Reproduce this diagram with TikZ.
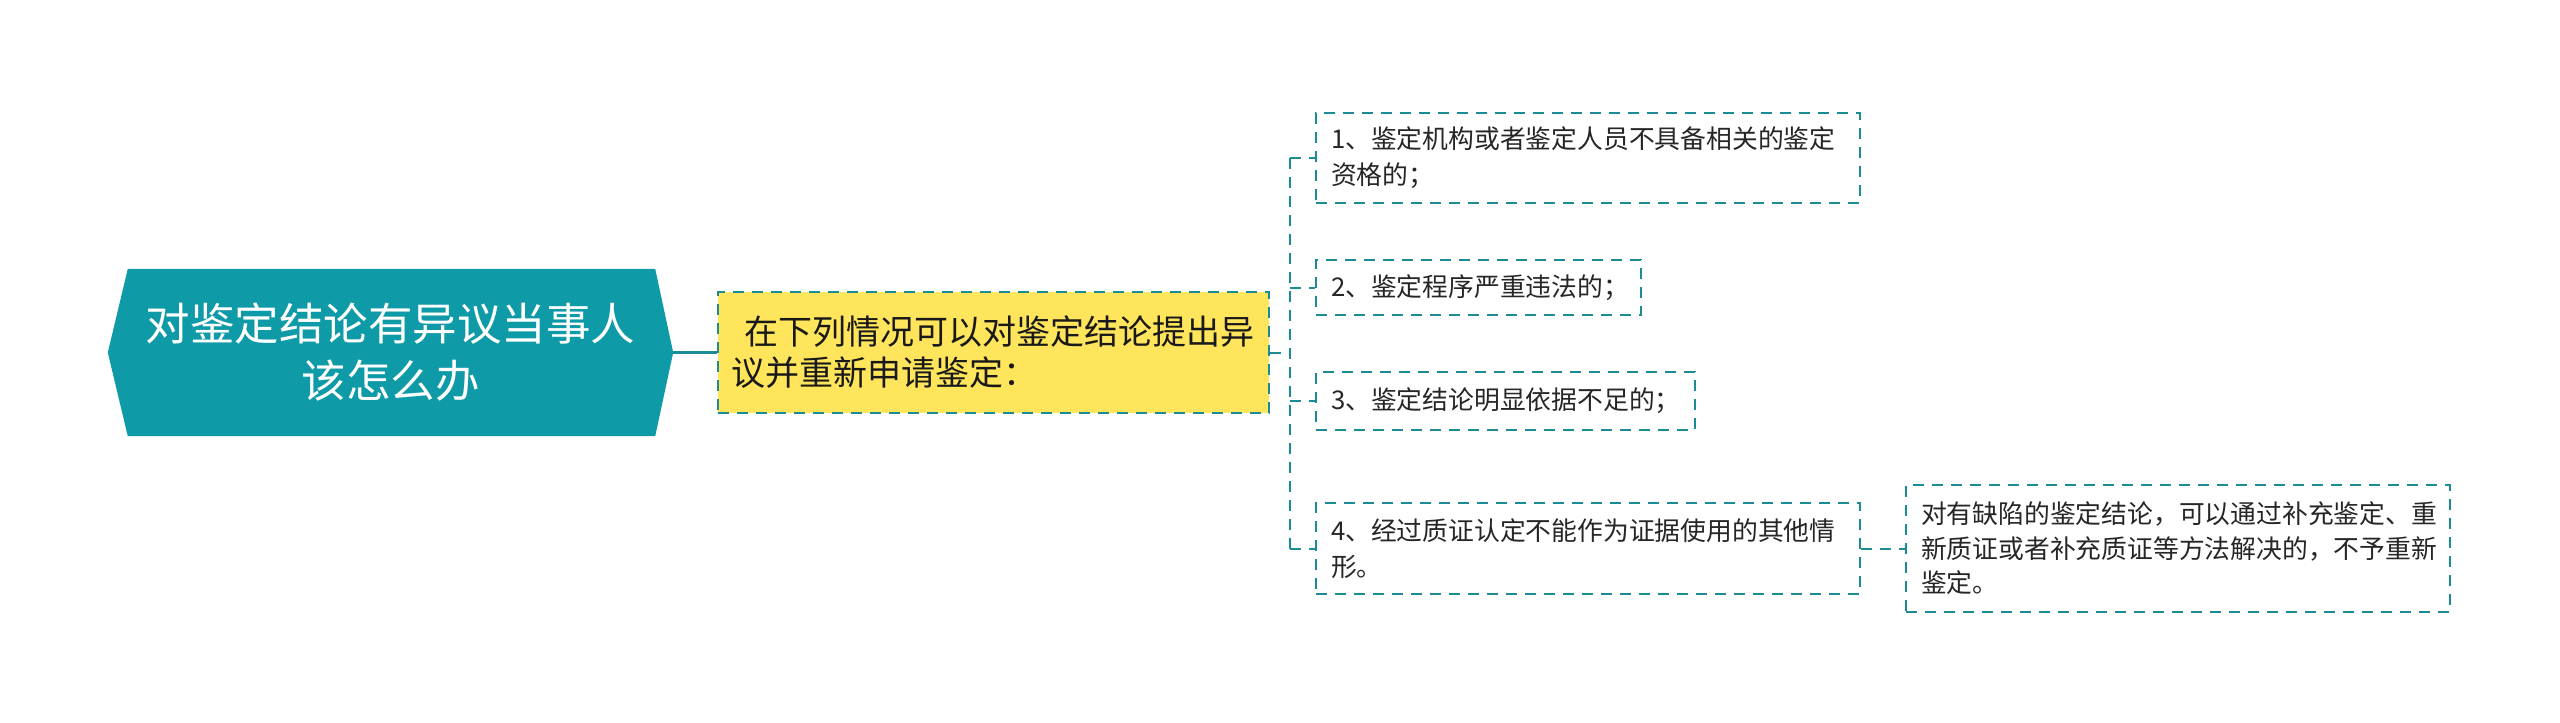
\documentclass[tikz,border=0pt]{standalone}
\usepackage{fontspec}
\newfontfamily\cjk{Noto Sans CJK SC}
\usetikzlibrary{calc}
\definecolor{teal1}{HTML}{0F9AA7}
\definecolor{tealline}{HTML}{1B8C96}
\definecolor{yell}{HTML}{FFE55B}
\tikzset{
  dline/.style={draw=tealline, line width=2pt, dash pattern=on 11pt off 8pt},
  rootbox/.style={text=white, align=center, inner sep=0pt,
    font=\cjk\fontsize{44.5}{57}\selectfont},
  yelbox/.style={dline, fill=yell, align=left, inner xsep=13pt, inner ysep=0pt,
    font=\cjk\fontsize{34}{41}\selectfont, text=black!90},
  itembox/.style={dline, fill=white, align=left, inner xsep=15pt, inner ysep=0pt,
    font=\cjk\fontsize{25.8}{36}\selectfont, text=black!85},
}
\begin{document}
\begin{tikzpicture}[x=1pt,y=-1pt]
\useasboundingbox[fill=white] (0,0) rectangle (2560,723);
% root
\node[rootbox, minimum width=565pt, minimum height=167pt] (root) at (390.5,352.5)
  {对鉴定结论有异议当事人\\该怎么办};
\fill[teal1] (root.west) -- ($(root.north west)+(20,0)$) -- ($(root.north east)+(-18,0)$)
  -- (root.east) -- ($(root.south east)+(-18,0)$) -- ($(root.south west)+(20,0)$) -- cycle;
\node[rootbox] at (root.center) {对鉴定结论有异议当事人\\该怎么办};
% yellow
\node[yelbox, text width=525pt, minimum height=121pt] (yb) at (993.5,352.5)
  {\hspace*{13pt}在下列情况可以对鉴定结论提出异\\议并重新申请鉴定：};
\draw[tealline, line width=3pt] (root.east) -- (yb.west);
% items
\node[itembox, text width=514pt, minimum height=90pt] (i1) at (1588,158)
  {1、鉴定机构或者鉴定人员不具备相关的鉴定\\资格的；};
\node[itembox, text width=295pt, minimum height=55pt] (i2) at (1478.5,287.5)
  {2、鉴定程序严重违法的；};
\node[itembox, text width=349pt, minimum height=58pt] (i3) at (1505.5,401)
  {3、鉴定结论明显依据不足的；};
\node[itembox, text width=514pt, minimum height=91pt] (i4) at (1588,548.5)
  {4、经过质证认定不能作为证据使用的其他情\\形。};
\node[itembox, text width=514pt, minimum height=127pt, font=\cjk\fontsize{25.8}{34.5}\selectfont] (i5) at (2178,548.5)
  {对有缺陷的鉴定结论，可以通过补充鉴定、重\\新质证或者补充质证等方法解决的，不予重新\\鉴定。};
% connectors
\coordinate (bx) at (1290,352.5);
\draw[dline] (yb.east) -- (bx);
\draw[dline] (bx |- i1.west) -- (bx |- i4.west);
\foreach \n in {i1,i2,i3,i4} \draw[dline] (bx |- \n.west) -- (\n.west);
\draw[dline] (i4.east) -- (i5.west);
\end{tikzpicture}
\end{document}
